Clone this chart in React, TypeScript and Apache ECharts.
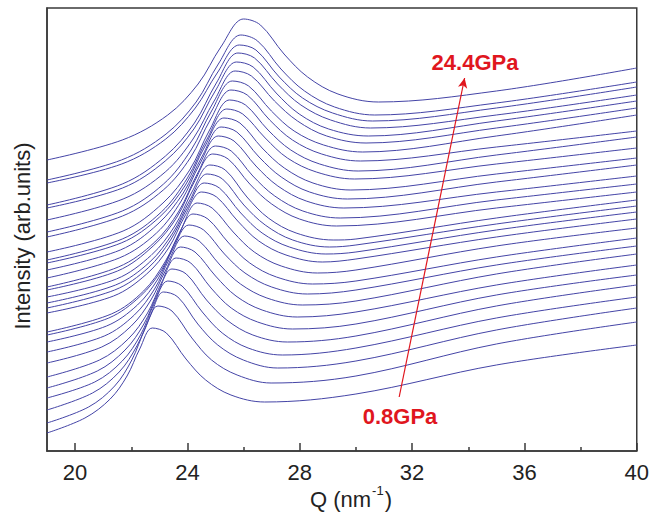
import React, { useEffect, useRef } from "react";
import * as echarts from "echarts";

// Q (nm^-1) vs intensity (arb. units), one curve per pressure step, bottom (0.8 GPa) to top (24.4 GPa)
const spectra: number[][][] = [
  [[19,18],[20.35,33],[21.25,52],[21.85,75],[22.3,102],[22.75,123],[23.25,118],[23.95,92],[24.65,71],[25.55,56],[26.75,49],[30,57],[35,86],[40,106]],
  [[19,28],[20.48,44],[21.41,65],[22.02,91],[22.49,122],[22.95,145],[23.45,140],[24.16,113],[24.86,91],[25.77,76],[26.98,68],[30,75],[35,107],[40,129]],
  [[19,41],[20.62,58],[21.57,79],[22.2,105],[22.68,135],[23.15,159],[23.66,154],[24.37,127],[25.08,106],[25.99,91],[27.21,83],[30,90],[35,121],[40,143]],
  [[19,53],[20.7,69],[21.68,90],[22.33,116],[22.81,147],[23.3,170],[23.81,165],[24.53,139],[25.24,118],[26.16,103],[27.38,96],[30,103],[35,133],[40,154]],
  [[19,63],[20.79,80],[21.78,101],[22.45,127],[22.95,158],[23.45,182],[23.96,177],[24.68,151],[25.4,131],[26.33,116],[27.56,109],[30,115],[35,145],[40,166]],
  [[19,74],[20.87,91],[21.89,112],[22.58,138],[23.09,169],[23.6,193],[24.12,188],[24.84,163],[25.56,143],[26.5,129],[27.74,122],[30,127],[35,156],[40,176]],
  [[19,88],[20.95,104],[22.0,125],[22.7,151],[23.23,181],[23.75,204],[24.27,199],[25.0,175],[25.73,155],[26.66,141],[27.91,134],[30,139],[35,166],[40,186]],
  [[19,99],[21.04,115],[22.11,136],[22.83,162],[23.36,192],[23.9,215],[24.42,210],[25.16,186],[25.89,167],[26.83,153],[28.09,146],[30,150],[35,177],[40,197]],
  [[19,109],[21.12,125],[22.22,146],[22.95,172],[23.5,203],[24.05,226],[24.58,221],[25.32,197],[26.05,178],[27.0,164],[28.27,157],[30,161],[35,186],[40,205]],
  [[19,116],[21.2,133],[22.33,155],[23.08,181],[23.64,213],[24.2,237],[24.73,232],[25.47,208],[26.22,188],[27.17,174],[28.45,167],[30,170],[35,194],[40,213]],
  [[19,119],[21.29,137],[22.44,160],[23.2,189],[23.78,222],[24.35,248],[24.88,243],[25.63,219],[26.38,199],[27.34,185],[28.63,178],[30,181],[35,205],[40,223]],
  [[19,138],[21.37,155],[22.55,177],[23.33,203],[23.91,235],[24.5,259],[25.04,254],[25.79,230],[26.54,210],[27.51,196],[28.8,189],[30,192],[35,214],[40,232]],
  [[19,143],[21.41,161],[22.6,183],[23.4,211],[24.0,243],[24.6,268],[25.14,263],[25.9,238],[26.66,218],[27.63,204],[28.93,197],[30,199],[35,221],[40,239]],
  [[19,148],[21.44,166],[22.66,189],[23.48,218],[24.09,251],[24.7,277],[25.25,272],[26.01,246],[26.77,226],[27.75,211],[29.06,204],[30,206],[35,227],[40,245]],
  [[19,154],[21.47,172],[22.72,196],[23.55,225],[24.18,260],[24.8,286],[25.35,281],[26.12,254],[26.88,233],[27.87,218],[29.19,211],[30,212],[35,233],[40,251]],
  [[19,161],[21.51,180],[22.78,205],[23.63,234],[24.26,270],[24.9,297],[25.45,292],[26.22,267],[27.0,247],[27.99,232],[29.31,225],[35,243],[40,259]],
  [[19,164],[21.54,184],[22.84,209],[23.7,240],[24.35,277],[25.0,305],[25.56,300],[26.33,275],[27.11,255],[28.11,240],[29.44,233],[35,251],[40,267]],
  [[19,173],[21.57,193],[22.9,218],[23.78,250],[24.44,287],[25.1,315],[25.66,310],[26.44,285],[27.22,265],[28.23,250],[29.57,243],[35,259],[40,275]],
  [[19,181],[21.61,201],[22.95,227],[23.85,258],[24.53,295],[25.2,324],[25.76,319],[26.55,294],[27.34,274],[28.35,259],[29.7,252],[35,269],[40,286]],
  [[19,188],[21.64,208],[23.01,234],[23.93,266],[24.61,304],[25.3,333],[25.87,328],[26.66,303],[27.45,283],[28.47,268],[29.82,261],[35,277],[40,293]],
  [[19,191],[21.68,212],[23.07,239],[24.0,273],[24.7,312],[25.4,342],[25.97,337],[26.77,313],[27.56,293],[28.59,279],[29.95,272],[35,287],[40,303]],
  [[19,199],[21.71,220],[23.13,248],[24.08,281],[24.79,321],[25.5,351],[26.07,346],[26.87,321],[27.68,301],[28.71,287],[30.08,280],[35,296],[40,314]],
  [[19,214],[21.69,235],[23.14,261],[24.1,293],[24.83,332],[25.55,361],[26.13,356],[26.93,331],[27.74,311],[28.78,297],[30.16,290],[35,304],[40,320]],
  [[19,219],[21.68,240],[23.15,267],[24.13,301],[24.86,340],[25.6,370],[26.18,365],[26.99,340],[27.8,320],[28.85,306],[30.24,299],[35,315],[40,336]],
  [[19,231],[21.71,252],[23.21,279],[24.2,312],[24.95,350],[25.7,380],[26.28,375],[27.1,350],[27.92,330],[28.96,315],[30.36,308],[35,323],[40,343]],
  [[19,243],[21.69,263],[23.21,290],[24.23,322],[24.99,360],[25.75,389],[26.34,384],[27.16,358],[27.98,337],[29.03,322],[30.44,315],[35,330],[40,350]],
  [[19,246],[21.68,267],[23.22,295],[24.25,328],[25.03,368],[25.8,398],[26.39,393],[27.21,367],[28.04,346],[29.1,331],[30.52,323],[35,336],[40,356]],
  [[19,268],[21.66,287],[23.23,312],[24.28,343],[25.06,378],[25.85,406],[26.44,401],[27.27,374],[28.1,353],[29.17,338],[30.59,330],[35,343],[40,364]],
  [[19,271],[21.65,291],[23.24,317],[24.31,349],[25.1,387],[25.9,416],[26.5,410],[27.33,382],[28.17,360],[29.24,344],[30.67,336],[35,348],[40,369]],
  [[19,291],[21.68,311],[23.3,336],[24.38,367],[25.19,404],[26.0,432],[26.6,426],[27.44,397],[28.28,374],[29.36,357],[30.8,349],[35,360],[40,383]],
];

const xMajorTicks = [20, 24, 28, 32, 36, 40];
const xMinorTicks = [22, 26, 30, 34, 38];
const pressureLow = "0.8GPa";
const pressureHigh = "24.4GPa";
const arrowStart = [31.54, 54];
const arrowEnd = [33.87, 373];

const FONT = "'Liberation Sans', Arial, Helvetica, sans-serif";
const LINE_COLOR = "#4444a6";
const RED = "#e0161e";

export default function App() {
  const ref = useRef<HTMLDivElement>(null);

  useEffect(() => {
    if (!ref.current) return;
    const chart = echarts.init(ref.current, undefined, { renderer: "svg" });

    const series: any[] = spectra.map((pts, i) => ({
      type: "line",
      name: "s" + i,
      data: pts,
      symbol: "none",
      smooth: 0.35,
      silent: true,
      lineStyle: { color: LINE_COLOR, width: 1 },
      z: 2,
    }));

    series.push({
      type: "line",
      name: "arrow",
      data: [],
      symbol: "none",
      silent: true,
      markLine: {
        silent: true,
        symbol: ["none", "arrow"],
        symbolSize: [7, 10],
        label: { show: false },
        lineStyle: { color: RED, width: 1.2, type: "solid" },
        data: [[{ coord: arrowStart }, { coord: arrowEnd }]],
      },
      z: 5,
    });

    chart.setOption({
      animation: false,
      backgroundColor: "#ffffff",
      grid: {
        left: 47,
        right: 12,
        top: 8,
        bottom: 65,
        show: true,
        borderColor: "#3a3a3a",
        borderWidth: 1.5,
        backgroundColor: "transparent",
      },
      xAxis: [
        {
          type: "value",
          min: 19,
          max: 40,
          position: "bottom",
          axisLine: { show: true, lineStyle: { color: "#3a3a3a", width: 1.5 } },
          axisTick: {
            show: true,
            inside: true,
            length: 8,
            customValues: xMajorTicks,
            lineStyle: { color: "#3a3a3a", width: 1.5 },
          },
          axisLabel: {
            show: true,
            customValues: xMajorTicks,
            fontSize: 22,
            fontFamily: FONT,
            color: "#222",
            margin: 10,
          },
          splitLine: { show: false },
        },
        {
          type: "value",
          min: 19,
          max: 40,
          position: "bottom",
          axisLine: { show: false },
          axisTick: {
            show: true,
            inside: true,
            length: 4,
            customValues: xMinorTicks,
            lineStyle: { color: "#3a3a3a", width: 1.5 },
          },
          axisLabel: { show: false },
          splitLine: { show: false },
        },
      ],
      yAxis: {
        type: "value",
        min: 0,
        max: 443,
        axisLine: { show: true, lineStyle: { color: "#3a3a3a", width: 1.5 } },
        axisTick: { show: false },
        axisLabel: { show: false },
        splitLine: { show: false },
      },
      series,
      graphic: [
        {
          type: "text",
          x: 22,
          y: 236,
          rotation: Math.PI / 2,
          style: {
            text: "Intensity (arb.units)",
            font: `22px ${FONT}`,
            fill: "#222",
            textAlign: "center",
            textVerticalAlign: "middle",
          },
        },
        {
          type: "text",
          x: 351,
          y: 497,
          style: {
            text: "{a|Q (nm}{b|-1}{a|)}",
            textAlign: "center",
            textVerticalAlign: "middle",
            fill: "#222",
            rich: {
              a: { fontSize: 22, fontFamily: FONT, fill: "#222", lineHeight: 26, verticalAlign: "bottom" },
              b: { fontSize: 13, fontFamily: FONT, fill: "#222", lineHeight: 26, verticalAlign: "top", padding: [0, 1, 0, 1] },
            },
          },
        },
        {
          type: "text",
          x: 475,
          y: 62,
          style: {
            text: pressureHigh,
            font: `bold 22px ${FONT}`,
            fill: RED,
            textAlign: "center",
            textVerticalAlign: "middle",
          },
        },
        {
          type: "text",
          x: 400,
          y: 416,
          style: {
            text: pressureLow,
            font: `bold 22px ${FONT}`,
            fill: RED,
            textAlign: "center",
            textVerticalAlign: "middle",
          },
        },
      ],
    });

    return () => chart.dispose();
  }, []);

  return (
    <div
      ref={ref}
      style={{ position: "absolute", left: 0, top: 0, width: 652, height: 516, background: "#fff" }}
    />
  );
}
